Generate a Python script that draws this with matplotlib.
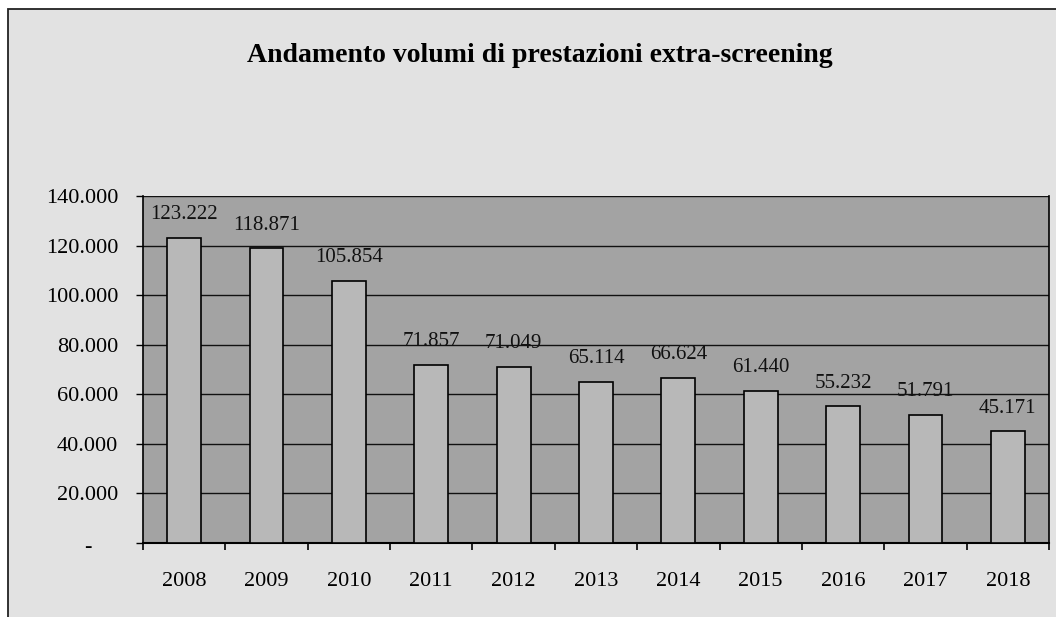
import matplotlib
matplotlib.use("Agg")
import matplotlib.pyplot as plt
from matplotlib.patches import Rectangle

years = ["2008", "2009", "2010", "2011", "2012", "2013", "2014", "2015", "2016", "2017", "2018"]
values = [123222, 118871, 105854, 71857, 71049, 65114, 66624, 61440, 55232, 51791, 45171]
value_labels = ["123.222", "118.871", "105.854", "71.857", "71.049", "65.114", "66.624",
                "61.440", "55.232", "51.791", "45.171"]
yticks = [0, 20000, 40000, 60000, 80000, 100000, 120000, 140000]
ytick_labels = ["", "20.000", "40.000", "60.000", "80.000", "100.000", "120.000", "140.000"]
zero_label = "-"
title = "Andamento volumi di prestazioni extra-screening"

plt.rcParams['font.family'] = ['Liberation Serif', 'DejaVu Serif']

W, H = 1056, 617
fig = plt.figure(figsize=(W / 100, H / 100), dpi=100)
fig.patch.set_facecolor("white")
fig.patches.append(Rectangle((8 / W, -0.05), 1.2, 1.05 - 9 / H, transform=fig.transFigure,
                             facecolor="#e2e2e2", edgecolor="#222222", linewidth=1.3, zorder=-10))

ax = fig.add_axes([143 / W, (H - 543) / H, (1049 - 143) / W, (543 - 196) / H])
ax.set_zorder(1)
ax.set_facecolor("#a3a3a3")

x = list(range(len(years)))
ax.bar(x, values, width=0.41, color="#b8b8b8", edgecolor="black", linewidth=1.2, zorder=3)
for xi, v, lab in zip(x, values, value_labels):
    ax.annotate(lab, (xi, v), xytext=(0, 23), textcoords="offset pixels",
                ha="center", va="center", fontsize=15, color="#111111", zorder=4)

ax.set_xlim(-0.5, len(years) - 0.5)
ax.set_ylim(0, 140000)
ax.set_yticks(yticks)
ax.set_yticklabels(ytick_labels, fontsize=16)
ax.yaxis.grid(True, color="#111111", linewidth=1.0)
ax.set_axisbelow(True)

ax.set_xticks(x)
ax.set_xticklabels(years, fontsize=16)
ax.tick_params(axis="x", which="major", length=0, pad=21)
ax.set_xticks([i + 0.5 for i in range(-1, len(years))], minor=True)
ax.tick_params(axis="x", which="minor", length=5, width=1.2, direction="out")
ax.tick_params(axis="y", length=5, width=1.0, direction="out", pad=13)

ax.spines["top"].set_visible(False)
ax.spines["right"].set_linewidth(1.2)
ax.spines["left"].set_linewidth(1.2)
ax.spines["bottom"].set_linewidth(1.5)

fig.text(88 / W, 1 - 548 / H, zero_label, ha="center", va="center", fontsize=16)
fig.text(540 / W, 1 - 56 / H, title, ha="center", va="center", fontsize=20, fontweight="bold")

fig.savefig("out.png", dpi=100, facecolor=fig.get_facecolor())
